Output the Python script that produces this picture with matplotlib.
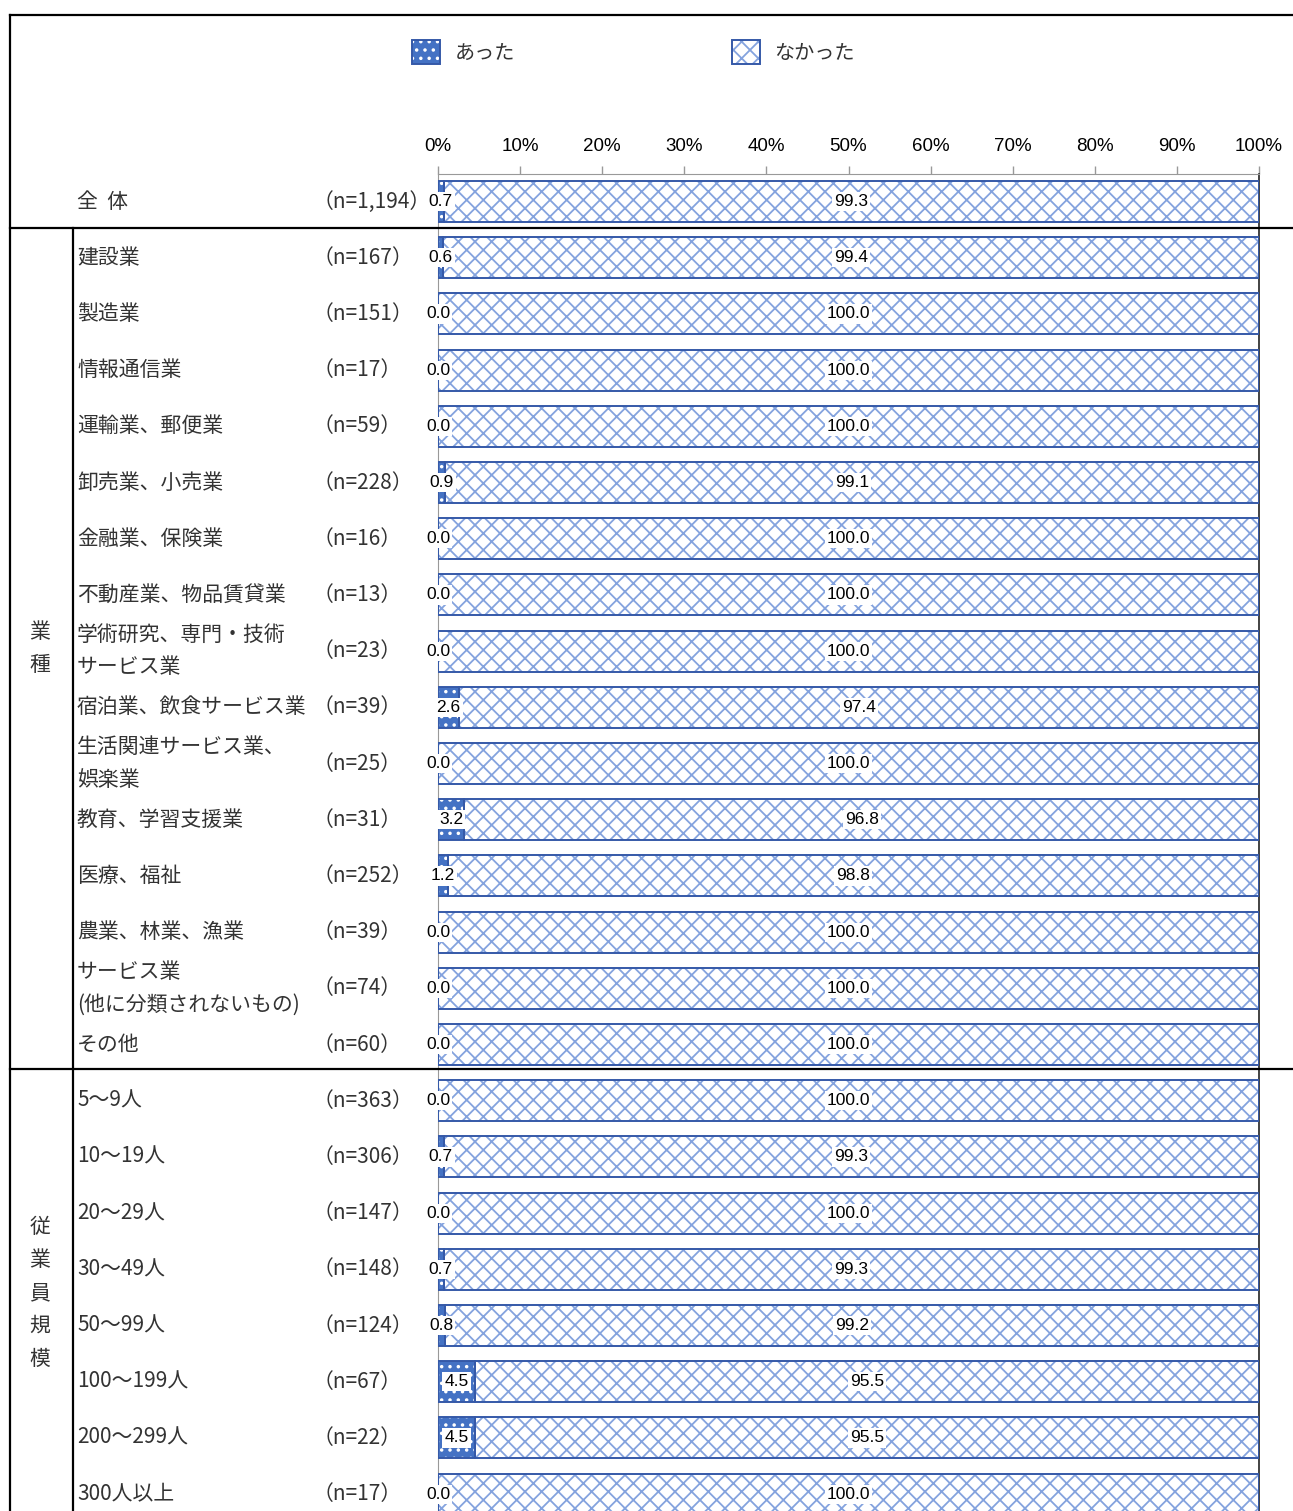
import matplotlib
matplotlib.use("Agg")
import matplotlib.pyplot as plt
from matplotlib.patches import Patch
from matplotlib.lines import Line2D
from matplotlib.legend_handler import HandlerTuple
from matplotlib.transforms import blended_transform_factory
import numpy as np

plt.rcParams['font.family'] = ['Noto Sans CJK JP', 'DejaVu Sans']
plt.rcParams['hatch.linewidth'] = 1.3

categories = ["全  体", "建設業", "製造業", "情報通信業", "運輸業、郵便業", "卸売業、小売業",
              "金融業、保険業", "不動産業、物品賃貸業", "学術研究、専門・技術\nサービス業",
              "宿泊業、飲食サービス業", "生活関連サービス業、\n娯楽業", "教育、学習支援業",
              "医療、福祉", "農業、林業、漁業", "サービス業\n(他に分類されないもの)", "その他",
              "5～9人", "10～19人", "20～29人", "30～49人", "50～99人", "100～199人",
              "200～299人", "300人以上"]
n_labels = ["1,194", "167", "151", "17", "59", "228", "16", "13", "23", "39", "25", "31",
            "252", "39", "74", "60", "363", "306", "147", "148", "124", "67", "22", "17"]
atta = [0.7, 0.6, 0.0, 0.0, 0.0, 0.9, 0.0, 0.0, 0.0, 2.6, 0.0, 3.2, 1.2, 0.0, 0.0, 0.0,
        0.0, 0.7, 0.0, 0.7, 0.8, 4.5, 4.5, 0.0]
nakatta = [99.3, 99.4, 100.0, 100.0, 100.0, 99.1, 100.0, 100.0, 100.0, 97.4, 100.0, 96.8,
           98.8, 100.0, 100.0, 100.0, 100.0, 99.3, 100.0, 99.3, 99.2, 95.5, 95.5, 100.0]
series_names = ["あった", "なかった"]
xticks = [0, 10, 20, 30, 40, 50, 60, 70, 80, 90, 100]
group_labels = ["業\n種", "従\n業\n員\n規\n模"]

W, H = 1293, 1511
fig = plt.figure(figsize=(W / 100, H / 100), dpi=100)
ax = fig.add_axes([438 / W, 0, 821 / W, (H - 174) / H])

y = np.arange(len(categories))
a = np.array(atta)
b = np.array(nakatta)
bh = 0.73
blue = "#4472C4"
edge = "#3559A8"
hatch_c = "#84A3DE"

# あった: blue fill with white dots
ax.barh(y, a, height=bh, color=blue, edgecolor="white", hatch="..", linewidth=0, zorder=2)
ax.barh(y, a, height=bh, fill=False, edgecolor=edge, linewidth=1.4, zorder=3)
# なかった: white with light-blue cross hatch
ax.barh(y, b, left=a, height=bh, color="white", edgecolor=hatch_c, hatch="xx", linewidth=0, zorder=2)
ax.barh(y, b, left=a, height=bh, fill=False, edgecolor=edge, linewidth=1.4, zorder=3)

bbox = dict(boxstyle="square,pad=0.12", facecolor="white", edgecolor="none")
for i in range(len(categories)):
    ax.text(a[i] / 2, y[i], f"{a[i]:.1f}", ha="center", va="center", fontsize=12.5,
            family="Liberation Sans", color="black", bbox=bbox, zorder=5)
    ax.text(a[i] + b[i] / 2, y[i], f"{b[i]:.1f}", ha="center", va="center", fontsize=12.5,
            family="Liberation Sans", color="black", bbox=bbox, zorder=5)

ax.set_xlim(0, 100)
ax.set_ylim(23.30, -0.49)
ax.set_yticks([])
ax.xaxis.tick_top()
ax.set_xticks(xticks)
ax.set_xticklabels([f"{t}%" for t in xticks], family="Liberation Sans", fontsize=13.5)
ax.tick_params(axis="x", direction="out", length=6, width=1, color="#999999", pad=7.5,
               labelcolor="black")
ax.spines["bottom"].set_visible(False)
ax.spines["top"].set_color("#999999")
ax.spines["left"].set_color("#999999")
ax.spines["right"].set_color("#222222")
ax.spines["right"].set_linewidth(1.2)
ax.patch.set_alpha(0)

tr = blended_transform_factory(fig.transFigure, ax.transData)
for i, cat in enumerate(categories):
    ax.text(77 / W, y[i], cat, transform=tr, ha="left", va="center", fontsize=15,
            color="#333333", linespacing=1.6, clip_on=False)
    ax.text(313 / W, y[i], f"（n={n_labels[i]}）", transform=tr, ha="left", va="center",
            fontsize=15, color="#333333", clip_on=False)

ax.text(40 / W, 7.95, group_labels[0], transform=tr, ha="center", va="center",
        fontsize=15, color="#333333", linespacing=1.65, clip_on=False)
ax.text(40 / W, 19.42, group_labels[1], transform=tr, ha="center", va="center",
        fontsize=15, color="#333333", linespacing=1.65, clip_on=False)

# table lines
def fx(px):
    return px / W

def fy(py):
    return 1 - py / H

lw = 1.6
for (x0, y0, x1, y1) in [(10, 15, W, 15), (10, 15, 10, H), (10, 228, W, 228),
                         (10, 1069, W, 1069), (73, 228, 73, H)]:
    fig.add_artist(Line2D([fx(x0), fx(x1)], [fy(y0), fy(y1)], color="black", lw=lw, zorder=10))

# legend
h1 = (Patch(facecolor=blue, edgecolor="white", hatch="..", linewidth=0),
      Patch(fill=False, edgecolor=edge, linewidth=1.4))
h2 = (Patch(facecolor="white", edgecolor=hatch_c, hatch="xx", linewidth=0),
      Patch(fill=False, edgecolor=edge, linewidth=1.4))
fig.legend([h1, h2], series_names, handler_map={tuple: HandlerTuple(ndivide=1, pad=0)},
           loc="center left", bbox_to_anchor=(412 / W, fy(52)), ncol=2, frameon=False,
           borderpad=0, borderaxespad=0, handlelength=1.4, handleheight=1.4,
           handletextpad=0.7, columnspacing=10.8, prop={"size": 14.5})
for t in fig.legends[0].get_texts():
    t.set_color("#333333")

fig.savefig("out.png", dpi=100)
